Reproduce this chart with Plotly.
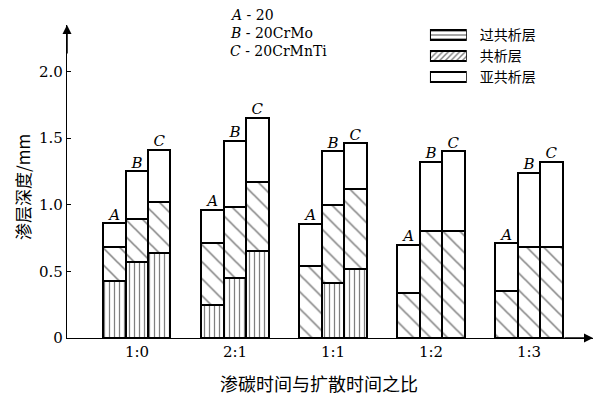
import plotly.graph_objects as go

ratios = ["1:0", "2:1", "1:1", "1:2", "1:3"]
steels = ["A", "B", "C"]
# top of each layer (mm), per ratio, per steel A, B, C
hyper_top = [[0.43, 0.57, 0.64], [0.25, 0.45, 0.65], [0.0, 0.41, 0.52], [0.0, 0.0, 0.0], [0.0, 0.0, 0.0]]
eutec_top = [[0.68, 0.89, 1.02], [0.71, 0.98, 1.17], [0.54, 1.00, 1.12], [0.34, 0.80, 0.80], [0.35, 0.68, 0.68]]
total_top = [[0.86, 1.25, 1.41], [0.96, 1.48, 1.65], [0.855, 1.40, 1.46], [0.70, 1.32, 1.40], [0.71, 1.24, 1.32]]
layer_names = ["过共析层", "共析层", "亚共析层"]
steel_notes = ["<i>A</i> - 20", "<i>B</i> - 20CrMo", "<i>C</i> - 20CrMnTi"]
y_ticks = [0, 0.5, 1.0, 1.5, 2.0]
y_ticktext = ["0", "0.5", "1.0", "1.5", "2.0"]

off = 0.228
bw = 0.228
xs, hyper, eutec, hypo, tops, labels = [], [], [], [], [], []
for i in range(len(ratios)):
    for j, s in enumerate(steels):
        xs.append(i + (j - 1) * off)
        h = hyper_top[i][j]
        e = eutec_top[i][j]
        t = total_top[i][j]
        hyper.append(h)
        eutec.append(e - h)
        hypo.append(t - e)
        tops.append(t)
        labels.append("<i>" + s + "</i>")

serif = "DejaVu Serif"
cjk = "Noto Sans CJK SC"
line = dict(color="black", width=2)

fig = go.Figure()
fig.add_trace(go.Bar(x=xs, y=hyper, width=bw, marker=dict(color="white", line=line,
    pattern=dict(shape="|", size=5, solidity=0.25, fgcolor="black", bgcolor="white")), showlegend=False))
fig.add_trace(go.Bar(x=xs, y=eutec, width=bw, marker=dict(color="white", line=line,
    pattern=dict(shape="\\", size=12, solidity=0.13, fgcolor="black", bgcolor="white")), showlegend=False))
fig.add_trace(go.Bar(x=xs, y=hypo, width=bw, marker=dict(color="white", line=line), showlegend=False))
fig.add_trace(go.Scatter(x=xs, y=tops, mode="text", text=labels, textposition="top center",
    textfont=dict(family=serif, size=15, color="black"), showlegend=False, cliponaxis=False))

# legend as inset
fig.add_trace(go.Bar(x=[1, 1, 1], y=layer_names, orientation="h", width=0.48, xaxis="x2", yaxis="y2",
    marker=dict(color="white", line=dict(color="black", width=2),
        pattern=dict(shape=["-", "/", ""], size=4, solidity=0.35, fgcolor="black", bgcolor="white")),
    showlegend=False, cliponaxis=False))

fig.update_layout(
    width=601, height=395, margin=dict(l=67, r=8, t=25, b=57, autoexpand=False),
    paper_bgcolor="white", plot_bgcolor="white", barmode="stack", bargap=0,
    xaxis=dict(range=[-0.714, 4.653], tickvals=list(range(len(ratios))), ticktext=ratios,
        showline=True, linecolor="black", linewidth=1.3, ticks="", showgrid=False, zeroline=False,
        automargin=False, tickfont=dict(family=serif, size=15, color="black")),
    yaxis=dict(range=[0, 2.348], tickvals=y_ticks, ticktext=y_ticktext, showline=True,
        linecolor="black", linewidth=1.3, ticks="inside", ticklen=4, tickcolor="black",
        automargin=False, showgrid=False, zeroline=False, tickfont=dict(family=serif, size=15, color="black")),
    xaxis2=dict(domain=[0.690, 0.760], range=[0, 1], visible=False, anchor="y2", automargin=False),
    yaxis2=dict(domain=[0.80, 1.0], anchor="x2", autorange="reversed", side="right",
        tickmode="array", tickvals=layer_names, ticktext=layer_names, automargin=False,
        showline=False, ticks="", showgrid=False, ticklabelstandoff=12,
        tickfont=dict(family=cjk, size=14, color="black")),
    font=dict(family=serif, color="black"),
)

notes_y = [1.032, 0.974, 0.917]
for txt, yy in zip(steel_notes, notes_y):
    fig.add_annotation(text=txt, x=0.306, y=yy, xref="paper", yref="paper", xanchor="left",
        yanchor="middle", showarrow=False, font=dict(family=serif, size=14, color="black"))

fig.add_annotation(text="渗碳时间与扩散时间之比", x=0.479, y=-0.144, xref="paper", yref="paper",
    xanchor="center", yanchor="middle", showarrow=False, font=dict(family=cjk, size=18, color="black"))
fig.add_annotation(text="渗层深度/mm", x=-0.086, y=0.482, xref="paper", yref="paper",
    xanchor="center", yanchor="middle", textangle=-90, showarrow=False,
    font=dict(family=cjk, size=17, color="black"))

# axis arrows
fig.add_annotation(x=0, y=1.0, xref="paper", yref="paper", ax=0, ay=30, text="",
    showarrow=True, arrowhead=2, arrowsize=1.2, arrowwidth=1.5, arrowcolor="black")
fig.add_annotation(x=1.0, y=0, xref="paper", yref="paper", ax=-30, ay=0, text="",
    showarrow=True, arrowhead=2, arrowsize=1.2, arrowwidth=1.5, arrowcolor="black")

fig.write_html("out.html", config={"displayModeBar": False},
    post_script="document.body.style.margin='0px';document.body.style.padding='0px';")
